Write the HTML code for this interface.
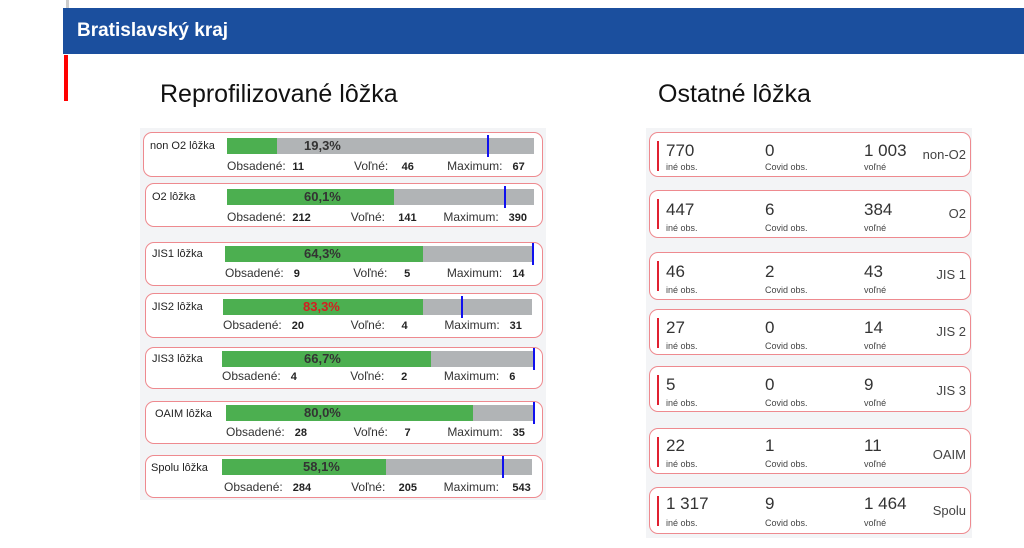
<!DOCTYPE html>
<html><head><meta charset="utf-8"><style>
body{margin:0;width:1024px;height:548px;background:#fff;position:relative;overflow:hidden;font-family:"Liberation Sans","DejaVu Sans",sans-serif;}
.a{position:absolute}
.hdr{left:63px;top:8px;width:961px;height:46px;background:#1b4f9e;color:#fff;font-weight:bold;font-size:19px;line-height:46px;padding-left:14px;box-sizing:border-box}
.card{position:absolute;border:1.5px solid #ee8a8f;border-radius:9px;background:#fff;box-sizing:border-box}
.nm{position:absolute;font-size:11px;color:#222}
.bar{position:absolute;height:16px;background:#b1b4b6}
.g{position:absolute;left:0;top:0;height:16px;background:#4caf50}
.pct{position:absolute;top:0;line-height:16px;font-size:13px;font-weight:bold;color:#333}
.mk{position:absolute;top:-3px;width:2px;height:22px;background:#1010ee}
.lb{position:absolute;font-size:12px;color:#333;white-space:pre}
.lb b{font-size:11px;color:#222}
.rc .n{position:absolute;font-size:17px;color:#333;top:6px}
.rc .s{position:absolute;font-size:9px;color:#444;top:29px}
.rc .t{position:absolute;right:4px;font-size:13px;color:#444}
.rc .r{position:absolute;left:7px;top:8px;width:2px;height:30px;background:#e02030}
</style></head><body>
<div class="a" style="left:66px;top:0;width:3px;height:8px;background:#ccc"></div>
<div class="a hdr">Bratislavský kraj</div>
<div class="a" style="left:64px;top:55px;width:4px;height:46px;background:#f00"></div>
<div class="a" style="left:160px;top:80px;font-size:25px;color:#111">Reprofilizované lôžka</div>
<div class="a" style="left:658px;top:80px;font-size:25px;color:#111">Ostatné lôžka</div>
<div class="a" style="left:140px;top:128px;width:406px;height:372px;background:#f3f4f6"></div>
<div class="a" style="left:646px;top:128px;width:326px;height:410px;background:#f3f4f6"></div>

<!-- left rows -->
<div class="card" style="left:143px;top:132px;width:400px;height:45px"></div>
<div class="nm" style="left:150px;top:140px">non O2 lôžka</div>
<div class="bar" style="left:227px;top:138px;width:307px"><div class="g" style="width:50px"></div><div class="pct" style="left:77px">19,3%</div><div class="mk" style="left:260px"></div></div>
<div class="lb" style="left:227px;top:159px">Obsadené:  <b>11</b>               Voľné:    <b>46</b>          Maximum:   <b>67</b></div>

<div class="card" style="left:145px;top:183px;width:398px;height:44px"></div>
<div class="nm" style="left:152px;top:191px">O2 lôžka</div>
<div class="bar" style="left:227px;top:189px;width:307px"><div class="g" style="width:167px"></div><div class="pct" style="left:77px">60,1%</div><div class="mk" style="left:277px"></div></div>
<div class="lb" style="left:227px;top:210px">Obsadené:  <b>212</b>            Voľné:    <b>141</b>        Maximum:   <b>390</b></div>

<div class="card" style="left:145px;top:242px;width:398px;height:44px"></div>
<div class="nm" style="left:152px;top:248px">JIS1 lôžka</div>
<div class="bar" style="left:225px;top:246px;width:309px"><div class="g" style="width:198px"></div><div class="pct" style="left:79px">64,3%</div><div class="mk" style="left:307px"></div></div>
<div class="lb" style="left:225px;top:266px">Obsadené:   <b>9</b>                Voľné:     <b>5</b>           Maximum:   <b>14</b></div>

<div class="card" style="left:145px;top:293px;width:398px;height:45px"></div>
<div class="nm" style="left:152px;top:301px">JIS2 lôžka</div>
<div class="bar" style="left:223px;top:299px;width:309px"><div class="g" style="width:200px"></div><div class="pct" style="left:80px;color:#d32020">83,3%</div><div class="mk" style="left:238px"></div></div>
<div class="lb" style="left:223px;top:318px">Obsadené:   <b>20</b>              Voľné:     <b>4</b>           Maximum:   <b>31</b></div>

<div class="card" style="left:145px;top:347px;width:398px;height:42px"></div>
<div class="nm" style="left:152px;top:353px">JIS3 lôžka</div>
<div class="bar" style="left:222px;top:351px;width:312px"><div class="g" style="width:209px"></div><div class="pct" style="left:82px">66,7%</div><div class="mk" style="left:311px"></div></div>
<div class="lb" style="left:222px;top:369px">Obsadené:   <b>4</b>                Voľné:     <b>2</b>           Maximum:   <b>6</b></div>

<div class="card" style="left:145px;top:401px;width:398px;height:43px"></div>
<div class="nm" style="left:155px;top:408px">OAIM lôžka</div>
<div class="bar" style="left:226px;top:405px;width:308px"><div class="g" style="width:247px"></div><div class="pct" style="left:78px">80,0%</div><div class="mk" style="left:307px"></div></div>
<div class="lb" style="left:226px;top:425px">Obsadené:   <b>28</b>              Voľné:     <b>7</b>           Maximum:   <b>35</b></div>

<div class="card" style="left:145px;top:455px;width:398px;height:43px"></div>
<div class="nm" style="left:151px;top:462px">Spolu lôžka</div>
<div class="bar" style="left:222px;top:459px;width:310px"><div class="g" style="width:164px"></div><div class="pct" style="left:81px">58,1%</div><div class="mk" style="left:280px"></div></div>
<div class="lb" style="left:224px;top:480px">Obsadené:   <b>284</b>            Voľné:    <b>205</b>        Maximum:    <b>543</b></div>

<!-- right rows -->
<div class="card rc" style="left:649px;top:132px;width:322px;height:45px"><div class="r"></div><div class="n" style="left:16px;top:8px">770</div><div class="s" style="left:16px">iné obs.</div><div class="n" style="left:115px;top:8px">0</div><div class="s" style="left:115px">Covid obs.</div><div class="n" style="left:214px;top:8px">1 003</div><div class="s" style="left:214px">voľné</div><div class="t" style="top:14px">non-O2</div></div>
<div class="card rc" style="left:649px;top:190px;width:322px;height:48px"><div class="r"></div><div class="n" style="left:16px;top:9px">447</div><div class="s" style="left:16px;top:32px">iné obs.</div><div class="n" style="left:115px;top:9px">6</div><div class="s" style="left:115px;top:32px">Covid obs.</div><div class="n" style="left:214px;top:9px">384</div><div class="s" style="left:214px;top:32px">voľné</div><div class="t" style="top:15px">O2</div></div>
<div class="card rc" style="left:649px;top:252px;width:322px;height:48px"><div class="r"></div><div class="n" style="left:16px;top:9px">46</div><div class="s" style="left:16px;top:32px">iné obs.</div><div class="n" style="left:115px;top:9px">2</div><div class="s" style="left:115px;top:32px">Covid obs.</div><div class="n" style="left:214px;top:9px">43</div><div class="s" style="left:214px;top:32px">voľné</div><div class="t" style="top:14px">JIS 1</div></div>
<div class="card rc" style="left:649px;top:309px;width:322px;height:46px"><div class="r"></div><div class="n" style="left:16px;top:8px">27</div><div class="s" style="left:16px;top:31px">iné obs.</div><div class="n" style="left:115px;top:8px">0</div><div class="s" style="left:115px;top:31px">Covid obs.</div><div class="n" style="left:214px;top:8px">14</div><div class="s" style="left:214px;top:31px">voľné</div><div class="t" style="top:14px">JIS 2</div></div>
<div class="card rc" style="left:649px;top:366px;width:322px;height:46px"><div class="r"></div><div class="n" style="left:16px;top:8px">5</div><div class="s" style="left:16px;top:31px">iné obs.</div><div class="n" style="left:115px;top:8px">0</div><div class="s" style="left:115px;top:31px">Covid obs.</div><div class="n" style="left:214px;top:8px">9</div><div class="s" style="left:214px;top:31px">voľné</div><div class="t" style="top:16px">JIS 3</div></div>
<div class="card rc" style="left:649px;top:428px;width:322px;height:46px"><div class="r"></div><div class="n" style="left:16px;top:7px">22</div><div class="s" style="left:16px;top:30px">iné obs.</div><div class="n" style="left:115px;top:7px">1</div><div class="s" style="left:115px;top:30px">Covid obs.</div><div class="n" style="left:214px;top:7px">11</div><div class="s" style="left:214px;top:30px">voľné</div><div class="t" style="top:18px">OAIM</div></div>
<div class="card rc" style="left:649px;top:487px;width:322px;height:47px"><div class="r"></div><div class="n" style="left:16px;top:6px">1 317</div><div class="s" style="left:16px;top:30px">iné obs.</div><div class="n" style="left:115px;top:6px">9</div><div class="s" style="left:115px;top:30px">Covid obs.</div><div class="n" style="left:214px;top:6px">1 464</div><div class="s" style="left:214px;top:30px">voľné</div><div class="t" style="top:15px">Spolu</div></div>
</body></html>
